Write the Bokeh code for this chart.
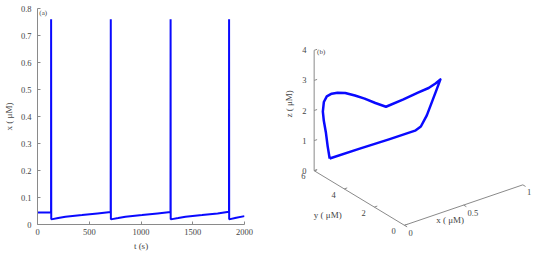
from bokeh.plotting import figure
from bokeh.layouts import row
from bokeh.models import Range1d, FixedTicker, Label
from bokeh.embed import file_html
from bokeh.resources import INLINE
from bokeh.core.properties import value

# ---------------- data: panel (a) time series ----------------
t_s = [0, 131, 131.5, 133, 200, 270, 430, 580, 707, 708, 709, 780, 850, 1010,
       1160, 1285, 1286, 1287, 1360, 1430, 1590, 1740, 1850, 1851, 1852, 1920, 2000]
x_s = [0.044, 0.045, 0.76, 0.019, 0.024, 0.029, 0.035, 0.041, 0.046, 0.76, 0.019,
       0.024, 0.029, 0.035, 0.041, 0.046, 0.76, 0.019, 0.024, 0.029, 0.035, 0.041,
       0.047, 0.76, 0.019, 0.025, 0.031]
t_ticks = [0, 500, 1000, 1500, 2000]
x_ticks = [0, 0.1, 0.2, 0.3, 0.4, 0.5, 0.6, 0.7, 0.8]
x_tick_labels = ["0", "0.1", "0.2", "0.3", "0.4", "0.5", "0.6", "0.7", "0.8"]

# ---------------- data: panel (b) phase portrait ----------------
x3 = [0.018, 0.019, 0.020, 0.022, 0.024, 0.026, 0.028, 0.030, 0.032, 0.034, 0.037,
      0.040, 0.043, 0.045, 0.20, 0.40, 0.55, 0.66, 0.76, 0.75, 0.74, 0.71, 0.68,
      0.62, 0.45, 0.22, 0.018]
y3 = [5.11, 5.25, 5.38, 5.53, 5.61, 5.56, 5.38, 5.07, 4.70, 4.20, 3.58, 2.96, 2.27,
      1.58, 1.64, 2.25, 2.72, 3.13, 3.59, 3.77, 3.95, 4.10, 4.26, 4.17, 4.57, 4.70, 5.11]
z3 = [0.65, 1.01, 1.44, 1.77, 2.05, 2.38, 2.62, 2.80, 2.94, 3.08, 3.18, 3.26, 3.32,
      3.40, 3.42, 3.19, 3.00, 2.88, 2.74, 2.35, 1.97, 1.46, 1.08, 1.05, 0.87, 0.83, 0.65]
bx_ticks = [0, 0.5, 1]
bx_tick_labels = ["0", "0.5", "1"]
by_ticks = [0, 2, 4, 6]
by_tick_labels = ["0", "2", "4", "6"]
bz_ticks = [0, 1, 2, 3, 4]
bz_tick_labels = ["0", "1", "2", "3", "4"]

FONT = "Liberation Serif"
BLUE = "#0a0aff"
AXC = "#8a8a8a"
TXT = "#444444"

# ---------------- panel (a) ----------------
p1 = figure(width=262, height=253, output_backend="svg", toolbar_location=None,
            x_range=Range1d(0, 2000), y_range=Range1d(0, 0.8),
            min_border_left=37, min_border_right=18, min_border_top=8,
            min_border_bottom=27)
p1.frame_align = False
p1.outline_line_color = None
p1.grid.visible = False
p1.line(t_s, x_s, line_color=BLUE, line_width=2)
for ax in (p1.xaxis[0], p1.yaxis[0]):
    ax.axis_line_color = AXC
    ax.major_tick_line_color = AXC
    ax.minor_tick_line_color = None
    ax.major_tick_in = 3
    ax.major_tick_out = 0
    ax.major_label_text_font = FONT
    ax.major_label_text_font_size = "8.5px"
    ax.major_label_text_color = TXT
    ax.axis_label_text_font = FONT
    ax.axis_label_text_font_size = "9px"
    ax.axis_label_text_font_style = "normal"
    ax.axis_label_text_color = TXT
p1.xaxis.ticker = FixedTicker(ticks=t_ticks)
p1.yaxis.ticker = FixedTicker(ticks=x_ticks)
p1.yaxis.major_label_overrides = {v: s for v, s in zip(x_ticks, x_tick_labels)}
p1.xaxis.axis_label = "t (s)"
p1.yaxis.axis_label = "x ( μM)"
p1.xaxis.major_label_standoff = 4
p1.yaxis.major_label_standoff = 6
p1.xaxis.axis_label_standoff = 3
p1.yaxis.axis_label_standoff = 4
p1.add_layout(Label(x=18, y=0.785, text="(a)", text_font=FONT,
                    text_font_size="7px", text_color=TXT, text_baseline="middle"))

# ---------------- panel (b) ----------------
# figure coordinates follow the reference image pixel grid (y downward)
p2 = figure(width=272, height=253, output_backend="svg", toolbar_location=None,
            x_range=Range1d(269.8, 550), y_range=Range1d(269, 0),
            x_axis_type=None, y_axis_type=None, min_border=0)
p2.frame_align = False
p2.outline_line_color = None
p2.grid.visible = False

OX, OY = 416, 239
EX = (122, -43)
EY = (-15.5, -9.67)
EZ = (0, -32)


def proj(x, y, z):
    return (OX + EX[0] * x + EY[0] * y + EZ[0] * z,
            OY + EX[1] * x + EY[1] * y + EZ[1] * z)


# axes lines
ymax = by_ticks[-1]
zmax = bz_ticks[-1]
xmax = bx_ticks[-1]
axes_pts = [proj(0, ymax, zmax), proj(0, ymax, 0), proj(0, 0, 0), proj(xmax, 0, 0)]
p2.line([a[0] for a in axes_pts], [a[1] for a in axes_pts], line_color=AXC, line_width=1)

tick_x0, tick_x1, tick_y0, tick_y1 = [], [], [], []
lab_x, lab_y, lab_t = [], [], []
for v, s in zip(bz_ticks, bz_tick_labels):
    a = proj(0, ymax, v)
    b = proj(0.025, ymax, v)
    tick_x0.append(a[0]); tick_y0.append(a[1]); tick_x1.append(b[0]); tick_y1.append(b[1])
    lab_x.append(a[0] - 10); lab_y.append(a[1]); lab_t.append(s)
for v, s in zip(by_ticks, by_tick_labels):
    a = proj(0, v, 0)
    b = proj(0.025, v, 0)
    tick_x0.append(a[0]); tick_y0.append(a[1]); tick_x1.append(b[0]); tick_y1.append(b[1])
    lab_x.append(a[0] - 11); lab_y.append(a[1] + 6); lab_t.append(s)
for v, s in zip(bx_ticks, bx_tick_labels):
    a = proj(v, 0, 0)
    b = proj(v, -0.18, 0)
    tick_x0.append(a[0]); tick_y0.append(a[1]); tick_x1.append(b[0]); tick_y1.append(b[1])
    lab_x.append(a[0] + 5 + 3 * len(s) / 2); lab_y.append(a[1] + 8); lab_t.append(s)
p2.segment(tick_x0, tick_y0, tick_x1, tick_y1, line_color=AXC, line_width=1)
p2.text(lab_x, lab_y, text=lab_t, text_font=value(FONT), text_font_size="8.5px",
        text_color=TXT, text_align="center", text_baseline="middle")

# axis labels
p2.text([337], [228], text=["y ( μM)"], text_font=value(FONT), text_font_size="9px",
        text_color=TXT, text_align="center", text_baseline="middle")
p2.text([463], [233], text=["x ( μM)"], text_font=value(FONT), text_font_size="9px",
        text_color=TXT, text_align="center", text_baseline="middle")
p2.text([297], [110], text=["z ( μM)"], angle=1.5708, text_font=value(FONT),
        text_font_size="9px", text_color=TXT, text_align="center", text_baseline="middle")
p2.text([326], [55], text=["(b)"], text_font=value(FONT), text_font_size="7px",
        text_color=TXT, text_align="left", text_baseline="middle")

# trajectory
pts = [proj(a, b, c) for a, b, c in zip(x3, y3, z3)]
p2.line([q[0] for q in pts], [q[1] for q in pts], line_color=BLUE, line_width=2.5,
        line_join="round")

layout = row(p1, p2)
open("out.html", "w").write(file_html(layout, INLINE))
